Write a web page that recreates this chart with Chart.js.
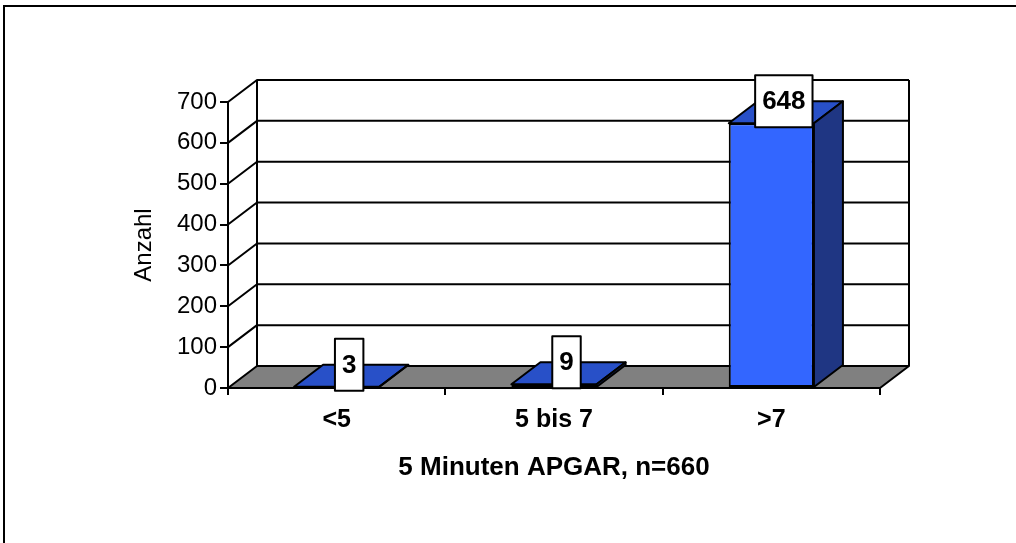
<!DOCTYPE html>
<html>
<head>
<meta charset="utf-8">
<script src="https://cdn.jsdelivr.net/npm/chart.js@4.4.1/dist/chart.umd.min.js"></script>
<style>
  html, body { margin: 0; padding: 0; background: #fff; }
  #apgarChart { display: block; }
</style>
</head>
<body>
<canvas id="apgarChart" width="1016" height="543"></canvas>
<script>
// data
const categories = ['<5', '5 bis 7', '>7'];
const counts = [3, 9, 648];
const yMin = 0;
const yMax = 700;
const yStep = 100;
const yTitle = 'Anzahl';
const xTitle = '5 Minuten APGAR, n=660';

// 3d depth of the walls and bars
const DX = 29;
const DY = -22;
const FONT = "Arial, 'Liberation Sans', sans-serif";

const threeD = {
    id: 'threeD',
    beforeDraw: (chart) => {
        const ctx = chart.ctx;
        ctx.save();
        ctx.fillStyle = '#fff';
        ctx.fillRect(0, 0, chart.width, chart.height);
        ctx.strokeStyle = '#000';
        ctx.lineWidth = 2;
        ctx.beginPath();
        ctx.moveTo(4, chart.height + 5);
        ctx.lineTo(4, 6);
        ctx.lineTo(chart.width + 5, 6);
        ctx.stroke();
        ctx.restore();
    },
    beforeDatasetsDraw: (chart) => {
        const {ctx, chartArea: a, scales: {x, y}} = chart;
        const y0 = y.getPixelForValue(yMin);
        const yTop = y.getPixelForValue(yMax);
        ctx.save();
        ctx.strokeStyle = '#000';
        ctx.lineWidth = 2;
        ctx.lineJoin = 'round';
        // floor
        ctx.beginPath();
        ctx.moveTo(a.left, y0);
        ctx.lineTo(a.right, y0);
        ctx.lineTo(a.right + DX, y0 + DY);
        ctx.lineTo(a.left + DX, y0 + DY);
        ctx.closePath();
        ctx.fillStyle = '#808080';
        ctx.fill();
        ctx.stroke();
        // side and back wall grid
        for (let v = yMin + yStep; v <= yMax; v += yStep) {
            const yy = y.getPixelForValue(v);
            ctx.beginPath();
            ctx.moveTo(a.left, yy);
            ctx.lineTo(a.left + DX, yy + DY);
            ctx.lineTo(a.right + DX, yy + DY);
            ctx.stroke();
        }
        ctx.beginPath();
        ctx.moveTo(a.left + DX, y0 + DY);
        ctx.lineTo(a.left + DX, yTop + DY);
        ctx.moveTo(a.right + DX, y0 + DY);
        ctx.lineTo(a.right + DX, yTop + DY);
        ctx.stroke();
        ctx.restore();
    },
    afterDatasetsDraw: (chart) => {
        const ctx = chart.ctx;
        const bars = chart.getDatasetMeta(0).data;
        ctx.save();
        ctx.strokeStyle = '#000';
        ctx.lineWidth = 2;
        ctx.lineJoin = 'round';
        bars.forEach((bar) => {
            const p = bar.getProps(['x', 'y', 'base', 'width'], true);
            const l = p.x - p.width / 2;
            const r = p.x + p.width / 2;
            // top face
            ctx.beginPath();
            ctx.moveTo(l, p.y);
            ctx.lineTo(r, p.y);
            ctx.lineTo(r + DX, p.y + DY);
            ctx.lineTo(l + DX, p.y + DY);
            ctx.closePath();
            ctx.fillStyle = '#2850c8';
            ctx.fill();
            ctx.stroke();
            // side face
            ctx.beginPath();
            ctx.moveTo(r, p.y);
            ctx.lineTo(r + DX, p.y + DY);
            ctx.lineTo(r + DX, p.base + DY);
            ctx.lineTo(r, p.base);
            ctx.closePath();
            ctx.fillStyle = '#1f3683';
            ctx.fill();
            ctx.stroke();
        });
        // value boxes
        ctx.font = 'bold 26px ' + FONT;
        ctx.textAlign = 'center';
        ctx.textBaseline = 'middle';
        bars.forEach((bar, i) => {
            const p = bar.getProps(['x', 'y'], true);
            const txt = String(counts[i]);
            const w = ctx.measureText(txt).width + 14;
            const h = 52;
            const cx = p.x + 12.5;
            const cy = p.y + DY;
            ctx.fillStyle = '#fff';
            ctx.fillRect(cx - w / 2, cy - h / 2, w, h);
            ctx.strokeRect(cx - w / 2, cy - h / 2, w, h);
            ctx.fillStyle = '#000';
            ctx.fillText(txt, cx, cy + 1);
        });
        ctx.restore();
    }
};

var chart_apgar = new Chart(document.getElementById('apgarChart'), {
    type: 'bar',
    data: {
        labels: categories,
        datasets: [{
            label: 'Anzahl',
            data: counts,
            backgroundColor: '#3366ff',
            borderColor: '#000',
            borderWidth: 2,
            borderSkipped: false,
            categoryPercentage: 1,
            barPercentage: 0.392
        }]
    },
    options: {
        animation: false,
        responsive: false,
        devicePixelRatio: 1,
        layout: {
            padding: {top: 102, right: 136, bottom: 0, left: 0}
        },
        plugins: {
            legend: {display: false},
            tooltip: {enabled: false}
        },
        scales: {
            x: {
                afterFit: (s) => { s.height = 155; },
                grid: {
                    offset: true,
                    drawOnChartArea: false,
                    drawTicks: true,
                    tickLength: 7,
                    color: '#000',
                    lineWidth: 2
                },
                border: {display: true, color: '#000', width: 2},
                ticks: {
                    color: '#000',
                    padding: 10,
                    font: {family: FONT, size: 25, weight: 'bold'}
                },
                title: {
                    display: true,
                    text: xTitle,
                    color: '#000',
                    font: {family: FONT, size: 26, weight: 'bold'},
                    padding: {top: 0, bottom: 60}
                }
            },
            y: {
                min: yMin,
                max: yMax,
                afterFit: (s) => { s.width = 228; },
                grid: {
                    drawOnChartArea: false,
                    drawTicks: true,
                    tickLength: 8,
                    color: '#000',
                    lineWidth: 2
                },
                border: {display: true, color: '#000', width: 2},
                ticks: {
                    stepSize: yStep,
                    color: '#000',
                    padding: 3,
                    font: {family: FONT, size: 24}
                },
                title: {
                    display: true,
                    text: yTitle,
                    color: '#000',
                    font: {family: FONT, size: 24},
                    padding: {top: 130, bottom: 0}
                }
            }
        }
    },
    plugins: [threeD]
});
</script>
</body>
</html>
